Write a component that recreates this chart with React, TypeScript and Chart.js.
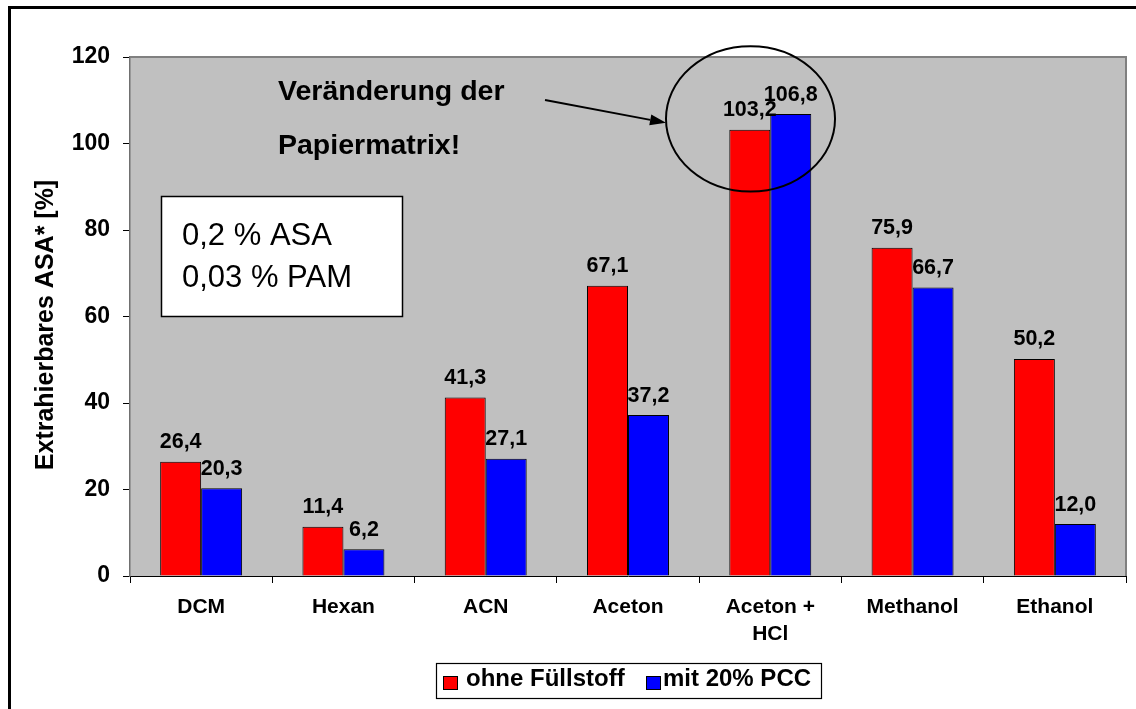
import React, { useEffect, useRef } from "react";
import { Chart, registerables } from "chart.js";

Chart.register(...registerables);

// ---- data ----
const categories: (string | string[])[] = ["DCM", "Hexan", "ACN", "Aceton", ["Aceton +", "HCl"], "Methanol", "Ethanol"];
const seriesNames = ["ohne Füllstoff", "mit 20% PCC"];
const ohneFuellstoff = [26.4, 11.4, 41.3, 67.1, 103.2, 75.9, 50.2];
const mit20PCC = [20.3, 6.2, 27.1, 37.2, 106.8, 66.7, 12.0];
const yMin = 0;
const yMax = 120;
const yStep = 20;
const yTitle = "Extrahierbares ASA* [%]";
const noteLines = ["0,2 % ASA", "0,03 % PAM"];
const annotationLines = ["Veränderung der", "Papiermatrix!"];
const highlightCategory = 4;

const FF = "'Liberation Sans', Arial, Helvetica, sans-serif";
const seriesColors = ["#FF0000", "#0000FF"];

const fmt = (v: number) => v.toFixed(1).replace(".", ",");

const decoPlugin = {
  id: "deco",
  beforeDraw(chart: any) {
    const { ctx, chartArea: a } = chart;
    ctx.save();
    ctx.fillStyle = "#ffffff";
    ctx.fillRect(0, 0, chart.width, chart.height);
    ctx.fillStyle = "#C0C0C0";
    ctx.fillRect(a.left, a.top, a.right - a.left, a.bottom - a.top);
    ctx.restore();
  },
  afterDatasetsDraw(chart: any) {
    const { ctx } = chart;
    ctx.save();
    ctx.fillStyle = "#000";
    ctx.font = `bold 21.5px ${FF}`;
    ctx.textAlign = "center";
    ctx.textBaseline = "alphabetic";
    chart.data.datasets.forEach((ds: any, i: number) => {
      const meta = chart.getDatasetMeta(i);
      meta.data.forEach((bar: any, j: number) => {
        ctx.fillText(fmt(ds.data[j]), bar.x, bar.y - 13.5);
      });
    });
    ctx.restore();
  },
  afterDraw(chart: any) {
    const { ctx, chartArea: a, scales } = chart;
    const xs = scales.x;
    const ys = scales.y;
    ctx.save();

    // plot area top / right border
    ctx.strokeStyle = "#808080";
    ctx.lineWidth = 2;
    ctx.beginPath();
    ctx.moveTo(a.left, a.top);
    ctx.lineTo(a.right, a.top);
    ctx.lineTo(a.right, a.bottom);
    ctx.stroke();

    // outer frame (top + left)
    ctx.fillStyle = "#000";
    ctx.fillRect(8, 6, chart.width - 8, 3);
    ctx.fillRect(8, 6, 3, chart.height - 6);

    // y axis title
    ctx.save();
    ctx.translate(46, 325);
    ctx.rotate(-Math.PI / 2);
    ctx.font = `bold 25px ${FF}`;
    ctx.textAlign = "center";
    ctx.textBaseline = "middle";
    ctx.fillStyle = "#000";
    ctx.fillText(yTitle, 0, 0);
    ctx.restore();

    // note box
    ctx.fillStyle = "#fff";
    ctx.fillRect(161.5, 196.5, 241, 120);
    ctx.strokeStyle = "#000";
    ctx.lineWidth = 1.5;
    ctx.strokeRect(161.5, 196.5, 241, 120);
    ctx.fillStyle = "#000";
    ctx.font = `31px ${FF}`;
    ctx.textAlign = "left";
    ctx.textBaseline = "alphabetic";
    ctx.fillText(noteLines[0], 182, 245);
    ctx.fillText(noteLines[1], 182, 287);

    // annotation text
    ctx.font = `bold 28.5px ${FF}`;
    ctx.fillText(annotationLines[0], 278, 99.5);
    ctx.fillText(annotationLines[1], 278, 154);

    // ellipse around highlighted category
    const catW = (xs.right - xs.left) / categories.length;
    const cx = xs.getPixelForValue(highlightCategory) - 0.139 * catW;
    const cy = ys.getPixelForValue(105.7);
    const rx = 0.594 * catW;
    const ry = ys.getPixelForValue(0) - ys.getPixelForValue(16.8);
    ctx.strokeStyle = "#000";
    ctx.lineWidth = 2;
    ctx.beginPath();
    ctx.ellipse(cx, cy, rx, ry, 0, 0, Math.PI * 2);
    ctx.stroke();

    // arrow
    const sx = 545, sy = 100;
    const tx = cx - rx, ty = cy + 4;
    const ang = Math.atan2(ty - sy, tx - sx);
    const hl = 16, hw = 5.5;
    const bx = tx - hl * Math.cos(ang);
    const by = ty - hl * Math.sin(ang);
    ctx.lineWidth = 2;
    ctx.beginPath();
    ctx.moveTo(sx, sy);
    ctx.lineTo(bx, by);
    ctx.stroke();
    ctx.fillStyle = "#000";
    ctx.beginPath();
    ctx.moveTo(tx, ty);
    ctx.lineTo(bx + hw * Math.sin(ang), by - hw * Math.cos(ang));
    ctx.lineTo(bx - hw * Math.sin(ang), by + hw * Math.cos(ang));
    ctx.closePath();
    ctx.fill();

    // legend
    ctx.fillStyle = "#fff";
    ctx.fillRect(436.5, 663.5, 385, 35);
    ctx.strokeStyle = "#000";
    ctx.lineWidth = 1.2;
    ctx.strokeRect(436.5, 663.5, 385, 35);
    const sw = [443.5, 646.5];
    const tx0 = [466, 663];
    ctx.font = `bold 24px ${FF}`;
    for (let i = 0; i < 2; i++) {
      ctx.fillStyle = seriesColors[i];
      ctx.fillRect(sw[i], 676.5, 14, 13);
      ctx.strokeStyle = "#000";
      ctx.lineWidth = 1;
      ctx.strokeRect(sw[i], 676.5, 14, 13);
      ctx.fillStyle = "#000";
      ctx.fillText(seriesNames[i], tx0[i], 686);
    }

    ctx.restore();
  },
};

export default function App() {
  const ref = useRef<HTMLCanvasElement | null>(null);
  useEffect(() => {
    if (!ref.current) return;
    const chart = new Chart(ref.current, {
      type: "bar",
      data: {
        labels: categories as any,
        datasets: [
          {
            label: seriesNames[0],
            data: ohneFuellstoff,
            backgroundColor: seriesColors[0],
            borderColor: "#000",
            borderWidth: 1,
            categoryPercentage: 0.576,
            barPercentage: 1.0,
          },
          {
            label: seriesNames[1],
            data: mit20PCC,
            backgroundColor: seriesColors[1],
            borderColor: "#000",
            borderWidth: 1,
            categoryPercentage: 0.576,
            barPercentage: 1.0,
          },
        ],
      },
      options: {
        responsive: false,
        animation: false,
        devicePixelRatio: 1,
        layout: { padding: { left: 0, right: 10, top: 57, bottom: 0 } },
        plugins: {
          legend: { display: false },
          tooltip: { enabled: false },
          title: { display: false },
        },
        scales: {
          x: {
            afterFit: (s: any) => {
              s.height = 133;
            },
            grid: { drawOnChartArea: false, drawTicks: true, tickLength: 7, color: "#000", offset: true },
            border: { display: true, color: "#000", width: 1 },
            ticks: {
              color: "#000",
              padding: 10,
              maxRotation: 0,
              autoSkip: false,
              font: { family: FF, size: 21, weight: "bold", lineHeight: 1.32 },
            },
          },
          y: {
            min: yMin,
            max: yMax,
            afterFit: (s: any) => {
              s.width = 130;
            },
            grid: { drawOnChartArea: false, drawTicks: true, tickLength: 7, color: "#000" },
            border: { display: true, color: "#707070", width: 1.5 },
            ticks: {
              stepSize: yStep,
              color: "#000",
              padding: 13,
              font: { family: FF, size: 23, weight: "bold" },
            },
          },
        },
      },
      plugins: [decoPlugin],
    } as any);
    return () => chart.destroy();
  }, []);
  return (
    <canvas
      ref={ref}
      width={1136}
      height={709}
      style={{ position: "fixed", left: 0, top: 0, width: 1136, height: 709, display: "block" }}
    />
  );
}
